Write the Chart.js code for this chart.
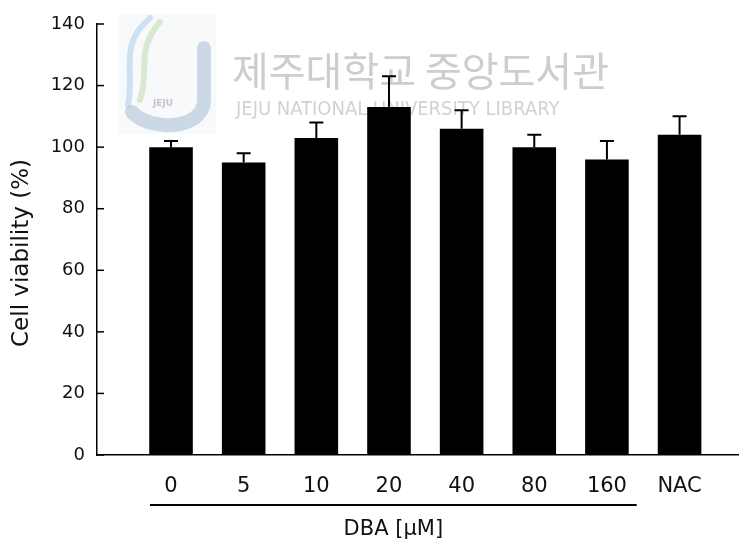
<!DOCTYPE html>
<html>
<head>
<meta charset="utf-8">
<script src="https://cdn.jsdelivr.net/npm/chart.js@4.4.1/dist/chart.umd.min.js"></script>
<style>
  html, body { margin: 0; padding: 0; background: #ffffff; }
  #wrap { width: 739px; height: 542px; position: relative; }
</style>
</head>
<body>
<div id="wrap"><canvas id="c" width="739" height="542"></canvas></div>
<script>
// ---- data ----
const categories = ['0', '5', '10', '20', '40', '80', '160', 'NAC'];
const viability = [100, 95, 103, 113, 106, 100, 96, 104];
const errorSD = [2, 3, 5, 10, 6, 4, 6, 6];
const yTicks = [0, 20, 40, 60, 80, 100, 120, 140];
const yTitle = 'Cell viability (%)';
const groupTitle = 'DBA [\u03bcM]';
const groupFrom = 0, groupTo = 6; // categories under the DBA bracket
const watermarkKo = '제주대학교 중앙도서관';
const watermarkEn = 'JEJU NATIONAL UNIVERSITY LIBRARY';

const positions = categories.map((_, i) => i);
const points = positions.map((p, i) => ({ x: p, y: viability[i] }));

const TEXT = '#111111';

const watermarkPlugin = {
  id: 'watermark',
  beforeDatasetsDraw(chart) {
    const ctx = chart.ctx;
    ctx.save();
    ctx.fillStyle = 'rgba(247,248,249,0.9)';
    ctx.fillRect(118, 14, 98, 120);
    ctx.lineCap = 'round';
    ctx.strokeStyle = 'rgba(150,195,230,0.45)';
    ctx.lineWidth = 6;
    ctx.beginPath();
    ctx.moveTo(150, 18); ctx.bezierCurveTo(118, 45, 135, 70, 128, 105);
    ctx.stroke();
    ctx.strokeStyle = 'rgba(185,215,170,0.5)';
    ctx.beginPath();
    ctx.moveTo(160, 22); ctx.bezierCurveTo(135, 50, 150, 72, 140, 100);
    ctx.stroke();
    ctx.strokeStyle = 'rgba(170,190,215,0.55)';
    ctx.lineWidth = 14;
    ctx.beginPath();
    ctx.moveTo(204, 48); ctx.lineTo(204, 100);
    ctx.bezierCurveTo(204, 130, 150, 132, 132, 112);
    ctx.stroke();
    ctx.fillStyle = 'rgba(160,160,170,0.6)';
    ctx.font = 'bold 9px "DejaVu Sans"';
    ctx.textAlign = 'center'; ctx.textBaseline = 'middle';
    ctx.fillText('JEJU', 163, 104);
    ctx.fillStyle = 'rgba(200,200,200,0.9)';
    ctx.textAlign = 'left'; ctx.textBaseline = 'middle';
    ctx.font = '40px "Noto Sans CJK KR"';
    ctx.fillText(watermarkKo, 232, 71, 378);
    ctx.fillStyle = 'rgba(205,205,205,0.9)';
    ctx.font = '20px "Liberation Sans Narrow", "DejaVu Sans Condensed", "Liberation Sans"';
    ctx.fillText(watermarkEn, 236, 110, 382);
    ctx.restore();
  }
};

const extrasPlugin = {
  id: 'extras',
  afterDatasetsDraw(chart) {
    const ctx = chart.ctx;
    const xs = chart.scales.x, ys = chart.scales.y;
    ctx.save();
    ctx.strokeStyle = '#000';
    ctx.lineWidth = 2;
    positions.forEach((p, i) => {
      const x = xs.getPixelForValue(p);
      const y0 = ys.getPixelForValue(viability[i]);
      const y1 = ys.getPixelForValue(viability[i] + errorSD[i]);
      ctx.beginPath();
      ctx.moveTo(x, y0); ctx.lineTo(x, y1);
      ctx.moveTo(x - 7, y1); ctx.lineTo(x + 7, y1);
      ctx.stroke();
    });
    ctx.restore();
  },
  afterDraw(chart) {
    const ctx = chart.ctx;
    const xs = chart.scales.x, ys = chart.scales.y;
    const area = chart.chartArea;
    ctx.save();
    ctx.strokeStyle = '#000';
    ctx.lineWidth = 1.5;
    yTicks.forEach(v => {
      const y = ys.getPixelForValue(v);
      ctx.beginPath(); ctx.moveTo(area.left, y); ctx.lineTo(area.left + 7, y); ctx.stroke();
    });
    const xa = xs.getPixelForValue(positions[groupFrom] - 0.29);
    const xb = xs.getPixelForValue(positions[groupTo] + 0.41);
    ctx.lineWidth = 2;
    ctx.beginPath(); ctx.moveTo(xa, 505); ctx.lineTo(xb, 505); ctx.stroke();
    ctx.fillStyle = TEXT;
    ctx.font = '21px "DejaVu Sans"';
    ctx.textAlign = 'center'; ctx.textBaseline = 'middle';
    ctx.fillText(groupTitle, (xa + xb) / 2, 530);
    ctx.translate(22, 253);
    ctx.rotate(-Math.PI / 2);
    ctx.font = '23px "DejaVu Sans"';
    ctx.fillText(yTitle, 0, 0);
    ctx.restore();
  }
};

new Chart(document.getElementById('c'), {
  type: 'bar',
  data: {
    datasets: [{
      data: points,
      backgroundColor: '#000000',
      borderWidth: 0,
      barPercentage: 0.75,
      categoryPercentage: 0.8
    }]
  },
  options: {
    responsive: false,
    animation: false,
    layout: { padding: { top: 24, right: 0, left: 0, bottom: 0 } },
    plugins: { legend: { display: false }, tooltip: { enabled: false } },
    scales: {
      x: {
        type: 'linear',
        offset: false,
        min: -1.019,
        max: 7.818,
        afterBuildTicks: s => { s.ticks = positions.map(v => ({ value: v })); },
        afterFit: s => { s.height = 87; },
        grid: { display: false, drawTicks: false },
        border: { display: true, color: '#000', width: 1.5 },
        ticks: {
          autoSkip: false, maxRotation: 0, padding: 19,
          color: TEXT,
          font: { family: 'DejaVu Sans', size: 21 },
          callback: v => categories[v] ?? ''
        }
      },
      y: {
        min: 0, max: 140,
        afterBuildTicks: s => { s.ticks = yTicks.map(v => ({ value: v })); },
        afterFit: s => { s.width = 97; },
        grid: { display: false, drawTicks: false },
        border: { display: true, color: '#000', width: 1.5 },
        ticks: {
          padding: 12,
          color: TEXT,
          font: { family: 'DejaVu Sans', size: 18 }
        }
      }
    }
  },
  plugins: [watermarkPlugin, extrasPlugin]
});
</script>
</body>
</html>
